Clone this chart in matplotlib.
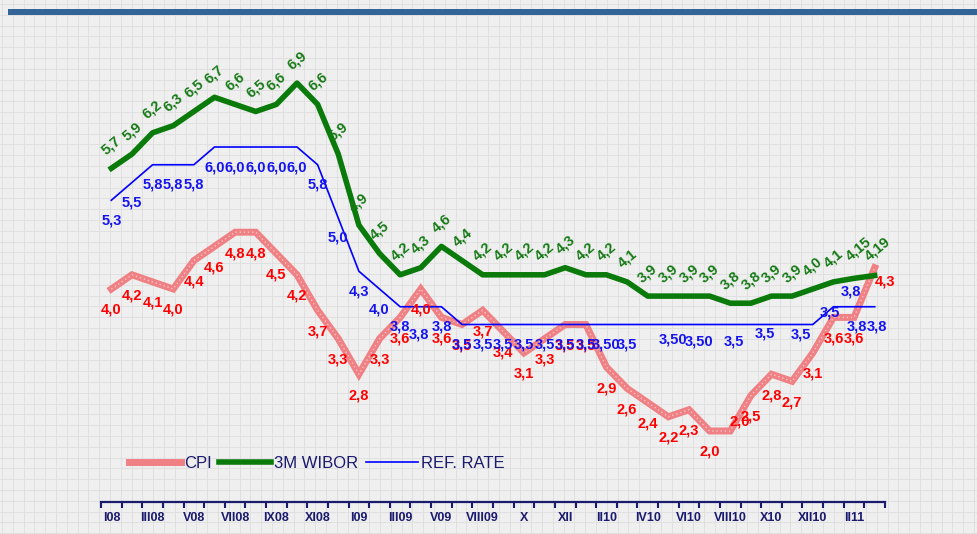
import matplotlib
matplotlib.use("Agg")
import matplotlib.pyplot as plt
import numpy as np
from matplotlib.patches import Rectangle

plt.rcParams['font.family'] = ['Liberation Sans', 'DejaVu Sans']

# --- DATA ---
months = np.arange(38)  # I 2008 .. II 2011
tick_labels = ['I08', 'III08', 'V08', 'VII08', 'IX08', 'XI08', 'I09', 'III09',
               'V09', 'VIII09', 'X', 'XII', 'II10', 'IV10', 'VI10', 'VIII10',
               'X10', 'XII10', 'II11']

cpi = [4.0, 4.2, 4.1, 4.0, 4.4, 4.6, 4.8, 4.8, 4.5, 4.2, 3.7, 3.3, 2.8, 3.3,
       3.6, 4.0, 3.6, 3.5, 3.7, 3.4, 3.1, 3.3, 3.5, 3.5, 2.9, 2.6, 2.4, 2.2,
       2.3, 2.0, 2.0, 2.5, 2.8, 2.7, 3.1, 3.6, 3.6, 4.3]
wibor = [5.7, 5.9, 6.2, 6.3, 6.5, 6.7, 6.6, 6.5, 6.6, 6.9, 6.6, 5.9, 4.9, 4.5,
         4.2, 4.3, 4.6, 4.4, 4.2, 4.2, 4.2, 4.2, 4.3, 4.2, 4.2, 4.1, 3.9, 3.9,
         3.9, 3.9, 3.8, 3.8, 3.9, 3.9, 4.0, 4.1, 4.15, 4.19]
ref_rate = [5.25, 5.5, 5.75, 5.75, 5.75, 6.0, 6.0, 6.0, 6.0, 6.0, 5.75, 5.0,
            4.25, 4.0, 3.75, 3.75, 3.75, 3.5, 3.5, 3.5, 3.5, 3.5, 3.5, 3.5,
            3.5, 3.5, 3.5, 3.5, 3.5, 3.5, 3.5, 3.5, 3.5, 3.5, 3.5, 3.75, 3.75, 3.75]
ref_two_dec = {24, 27, 28}      # labels shown as "3,50"
ref_hidden = {26, 29, 31}       # labels not shown

# label placement tweaks (pixels)
cpi_off = {30: (9, 9), 37: (10, -14)}
wibor_off = {36: (4, 29), 37: (3, 27)}
ref_off = {15: (-2, -28), 27: (5, -15), 28: (10, -17), 30: (4, -17),
           32: (-7, -9), 33: (9, -10), 34: (17, 12), 35: (17, 15),
           36: (3, -20), 37: (2, -20)}

NAVY = '#1a1a6e'
RED_LINE = '#ef8084'
GREEN = '#0a7a0a'
BLUE = '#0000ff'


def fmt_one(v):
    return f"{np.floor(v * 10 + 0.5) / 10:.1f}".replace('.', ',')


def fmt_auto(v):
    s = f"{v:.2f}".rstrip('0')
    if s.endswith('.'):
        s += '0'
    return s.replace('.', ',')


W, H = 977, 534
fig = plt.figure(figsize=(W / 100, H / 100), dpi=100)
fig.patch.set_facecolor('#efefef')

# background grid texture and top bar
bg = fig.add_axes([0, 0, 1, 1], zorder=0)
bg.set_xlim(0, W)
bg.set_ylim(H, 0)
bg.axis('off')
for gx in np.arange(2, W, 10.8):
    bg.axvline(gx, color='#e0e0e0', lw=0.7, zorder=1)
for gy in np.arange(4, H, 10.8):
    bg.axhline(gy, color='#e0e0e0', lw=0.7, zorder=1)
bg.add_patch(Rectangle((8, 8.5), W - 8, 6, color='#326497', lw=0, zorder=3))

# main chart
x0, x1 = 101, 885
ybot, ytop = 502, 30
ax = fig.add_axes([x0 / W, (H - ybot) / H, (x1 - x0) / W, (ybot - ytop) / H], zorder=1)
ax.patch.set_alpha(0)
ax.set_xlim(-0.5, 37.5)
ax.set_ylim(1.0, (573 - ytop) / 71)

ax.plot(months, cpi, color=RED_LINE, lw=5, solid_joinstyle='miter', zorder=2, label='CPI')
ax.plot(months, cpi, color='#f9c4c6', lw=1, ls=(0, (1, 2)), zorder=2.1)
ax.plot(months, wibor, color=GREEN, lw=4, zorder=3, label='3M WIBOR')
ax.plot(months, ref_rate, color=BLUE, lw=1.2, zorder=4, label='REF. RATE')

lab_kw = dict(textcoords='offset pixels', ha='center', va='center',
              fontsize=10.5, fontweight='bold')
for i, v in enumerate(cpi):
    ax.annotate(fmt_one(v), (months[i], v), xytext=cpi_off.get(i, (0, -21)),
                color='#ff0000', zorder=5, **lab_kw)
for i, v in enumerate(wibor):
    ax.annotate(fmt_auto(v), (months[i], v), xytext=wibor_off.get(i, (0, 23)),
                color='#167a16', rotation=40, rotation_mode='anchor', zorder=5, **lab_kw)
for i, v in enumerate(ref_rate):
    if i in ref_hidden:
        continue
    txt = f"{v:.2f}".replace('.', ',') if i in ref_two_dec else fmt_one(v)
    ax.annotate(txt, (months[i], v), xytext=ref_off.get(i, (0, -20)),
                color='#1414f0', zorder=6, **lab_kw)

# axes styling
for side in ['left', 'right', 'top']:
    ax.spines[side].set_visible(False)
ax.spines['bottom'].set_color(NAVY)
ax.spines['bottom'].set_linewidth(1.6)
ax.set_yticks([])
ax.set_xticks(np.arange(-0.5, 38, 1))
ax.set_xticklabels([])
ax.tick_params(axis='x', which='major', direction='out', length=4, width=1.5, color=NAVY)
ax.set_xticks(months[::2], minor=True)
ax.set_xticklabels(tick_labels, minor=True)
ax.tick_params(axis='x', which='minor', length=0, pad=7, labelsize=9, labelcolor=NAVY)
for t in ax.get_xticklabels(minor=True):
    t.set_fontweight('bold')

leg = ax.legend(loc='center left', bbox_to_anchor=(129 / W, 1 - 463 / H),
                bbox_transform=fig.transFigure, ncol=3, frameon=False,
                fontsize=12, handlelength=3.1, handletextpad=0.2,
                columnspacing=0.45, borderpad=0, borderaxespad=0)
for t in leg.get_texts():
    t.set_color(NAVY)

fig.savefig('out.png', dpi=100, facecolor=fig.get_facecolor())
